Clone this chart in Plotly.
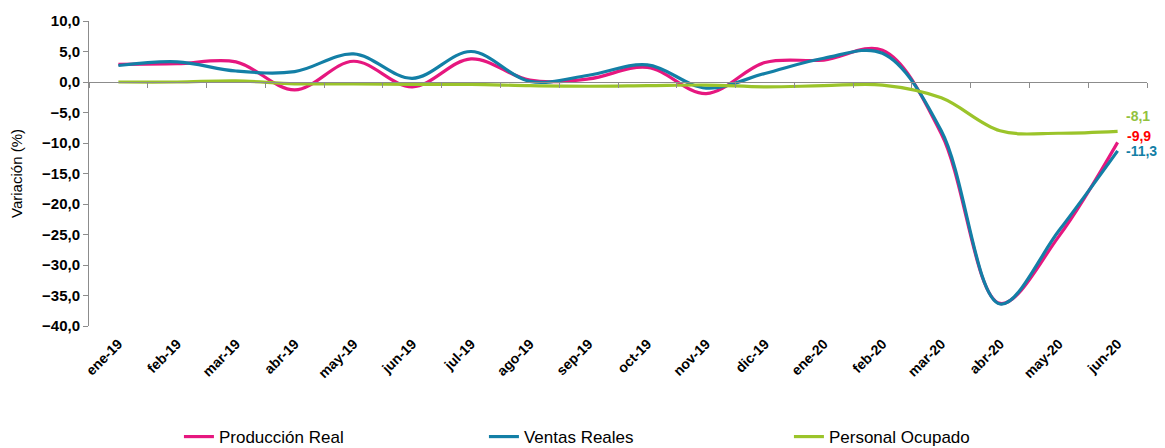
import plotly.graph_objects as go

months = ["ene-19", "feb-19", "mar-19", "abr-19", "may-19", "jun-19", "jul-19", "ago-19", "sep-19",
          "oct-19", "nov-19", "dic-19", "ene-20", "feb-20", "mar-20", "abr-20", "may-20", "jun-20"]

produccion = [2.9, 3.0, 3.3, -1.3, 3.4, -0.8, 3.8, 0.3, 0.5,
              2.4, -1.9, 3.2, 3.6, 5.2, -8.5, -36.3, -25.3, -9.9]
ventas = [2.7, 3.3, 1.8, 1.7, 4.6, 0.6, 5.0, 0.1, 1.1,
          2.8, -1.0, 1.4, 3.9, 4.7, -8.0, -36.4, -24.4, -11.3]
personal = [0.0, 0.0, 0.2, -0.3, -0.3, -0.4, -0.4, -0.6, -0.7,
            -0.6, -0.5, -0.8, -0.6, -0.5, -2.6, -8.0, -8.4, -8.1]

series_names = ["Producción Real", "Ventas Reales", "Personal Ocupado"]
colors = ["#E6177F", "#137FA6", "#9BC42A"]
label_colors = ["#FF0000", "#137FA6", "#92C23E"]

y_min, y_max = -40, 10
FONT = "Liberation Sans, Arial, sans-serif"

fig = go.Figure()
for name, vals, col in zip(series_names, [produccion, ventas, personal], colors):
    fig.add_trace(go.Scatter(
        x=months, y=vals, name=name, mode="lines",
        line=dict(color=col, width=3.2, shape="spline", smoothing=1.0),
        hoverinfo="x+y+name"))

def fmt(v):
    return f"{v:.1f}".replace(".", ",")

shifts = [(21, 6), (24, 0), (20, 15)]
for vals, col, (xs, ys) in zip([produccion, ventas, personal], label_colors, shifts):
    fig.add_annotation(x=months[-1], y=vals[-1], text="<b>" + fmt(vals[-1]) + "</b>",
                       showarrow=False, xanchor="center", yanchor="middle",
                       xshift=xs, yshift=ys,
                       font=dict(family=FONT, size=14, color=col))

n = len(months)
boundaries = [i - 0.5 for i in range(n + 1)]
zero_pos = (0 - y_min) / (y_max - y_min)

fig.add_trace(go.Scatter(x=list(range(n)), y=[None] * n, xaxis="x2", showlegend=False,
                         hoverinfo="skip", mode="lines"))

# page body has an 8px default margin, so the figure is drawn 8px smaller and offset
fig.update_layout(
    width=1157, height=440,
    margin=dict(l=81, r=18, t=13, b=122, autoexpand=False),
    paper_bgcolor="white", plot_bgcolor="white",
    font=dict(family=FONT, size=14, color="black"),
    showlegend=True,
    legend=dict(orientation="h", x=0.085, xanchor="left", y=-0.364, yanchor="middle",
                entrywidth=260, entrywidthmode="pixels",
                font=dict(family="Liberation Sans Narrow, Liberation Sans, Arial", size=17, color="black"),
                itemwidth=30, tracegroupgap=0),
    xaxis=dict(type="category", categoryarray=months, range=[-0.5, n - 0.5],
               tickmode="array", tickvals=months, ticktext=["<b>" + m + "</b>" for m in months],
               showline=False, ticks="", showgrid=False, zeroline=False, automargin=False,
               tickangle=-45, tickfont=dict(family=FONT, size=14, color="black"),
               ticklabelstandoff=6),
    xaxis2=dict(overlaying="x", anchor="free", position=zero_pos, range=[-0.5, n - 0.5],
                tickmode="array", tickvals=boundaries, showticklabels=False,
                ticks="outside", ticklen=5, tickcolor="#8C8C8C", showline=True,
                linecolor="#8C8C8C", linewidth=1, showgrid=False, zeroline=False, automargin=False),
    yaxis=dict(range=[y_min, y_max], dtick=5, tick0=0, tickformat=".1f",
               showline=True, linecolor="#8C8C8C", linewidth=1, automargin=False,
               ticks="outside", ticklen=5, tickcolor="#8C8C8C", showgrid=False, zeroline=False,
               tickprefix="<b>", ticksuffix="</b>",
               tickfont=dict(family=FONT, size=15, color="black"),
               title=dict(text="Variación (%)", standoff=16,
                          font=dict(family=FONT, size=15, color="black"))),
    separators=",.",
)

fig.write_html("out.html")
